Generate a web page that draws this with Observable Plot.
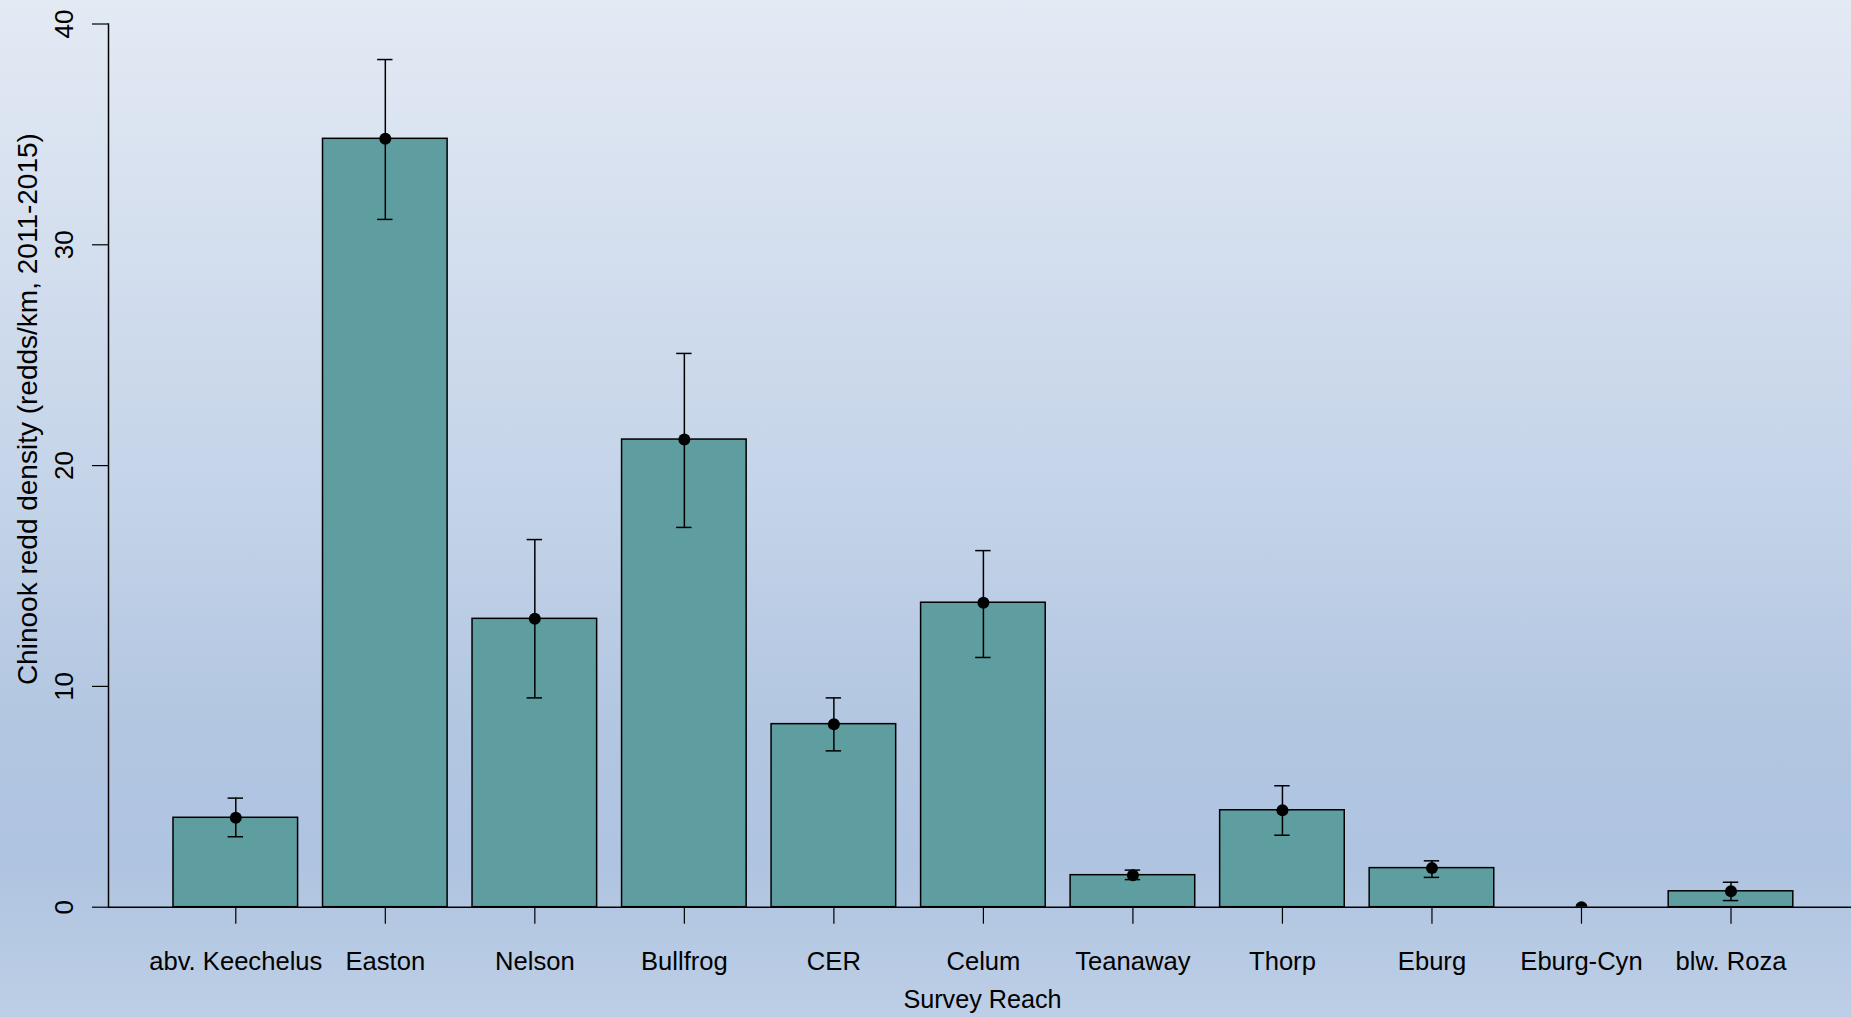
<!DOCTYPE html>
<html>
<head>
<meta charset="utf-8">
<script src="https://cdn.jsdelivr.net/npm/d3@7"></script>
<script src="https://cdn.jsdelivr.net/npm/@observablehq/plot@0.6"></script>
<style>
  html, body { margin: 0; padding: 0; overflow: hidden; }
  #chart svg { display: block; }
</style>
</head>
<body>
<div id="chart"></div>
<script>
// Survey reaches along the upper Yakima River, upstream to downstream
const reaches = ["abv. Keechelus", "Easton", "Nelson", "Bullfrog", "CER", "Celum",
                 "Teanaway", "Thorp", "Eburg", "Eburg-Cyn", "blw. Roza"];
// Mean Chinook redd density (redds/km, 2011-2015)
const density = [4.05, 34.8, 13.06, 21.18, 8.29, 13.79, 1.45, 4.39, 1.77, 0, 0.72];
// Lower and upper ends of the error bars
const errLow  = [3.19, 31.15, 9.48, 17.2, 7.08, 11.31, 1.25, 3.26, 1.35, 0, 0.30];
const errHigh = [4.94, 38.39, 16.65, 25.08, 9.48, 16.15, 1.68, 5.50, 2.10, 0, 1.13];
const yTicks = [0, 10, 20, 30, 40];

const xTitle = "Survey Reach";
const yTitle = "Chinook redd density (redds/km, 2011-2015)";

const rows = reaches.map((reach, i) => ({
  reach, density: density[i], lo: errLow[i], hi: errHigh[i]
}));
const bars = rows.filter(d => d.hi > d.lo);

const W = 1851, H = 1017;
const font = "'Liberation Sans', Arial, Helvetica, sans-serif";
const capInset = 54.6;

const chart = Plot.plot({
  width: W,
  height: H,
  marginLeft: 108,
  marginRight: 0,
  marginTop: 23.5,
  marginBottom: 110.3,
  style: {
    fontFamily: font,
    color: "black",
    background: "linear-gradient(to bottom, #e3eaf4 0%, #d3deee 25%, #c3d3e8 50%, #b2c6e1 72%, #afc4e1 85%, #b6c9e3 92%, #bdcfe6 100%)",
    overflow: "hidden"
  },
  x: {
    type: "band",
    domain: reaches,
    range: [108.2, 1857.6],
    paddingInner: 0.2 / 1.2,
    paddingOuter: 0.52 / 1.2,
    round: false,
    axis: null
  },
  y: {
    domain: [0, 40],
    axis: null
  },
  marks: [
    Plot.barY(rows, {x: "reach", y: "density", fill: "#5F9EA0", stroke: "black", strokeWidth: 1.5}),
    Plot.ruleY([0], {stroke: "black", strokeWidth: 1.6}),
    Plot.frame({anchor: "left", stroke: "black", strokeWidth: 1.5}),
    // error bars with flat caps
    Plot.ruleX(bars, {x: "reach", y1: "lo", y2: "hi", stroke: "black", strokeWidth: 1.5}),
    Plot.tickY(bars, {x: "reach", y: "lo", insetLeft: capInset, insetRight: capInset, stroke: "black", strokeWidth: 1.5}),
    Plot.tickY(bars, {x: "reach", y: "hi", insetLeft: capInset, insetRight: capInset, stroke: "black", strokeWidth: 1.5}),
    Plot.dot(rows, {x: "reach", y: "density", r: 6, fill: "black", stroke: null, clip: true}),
    // axes
    Plot.axisX({tickSize: 17, tickPadding: 28, fontSize: 25.6, label: null, stroke: "black", strokeWidth: 1.2}),
    Plot.axisY({ticks: yTicks, tickSize: 16, tickPadding: 20, tickRotate: -90, fontSize: 26, label: null, stroke: "black", strokeWidth: 1.2}),
    // axis titles
    Plot.text([xTitle], {frameAnchor: "bottom", dx: 2.5, dy: 92.3, fontSize: 25.2, textAnchor: "middle", lineAnchor: "middle", fill: "black"}),
    Plot.text([yTitle], {frameAnchor: "left", dx: -80, dy: -56.5, rotate: -90, fontSize: 28, textAnchor: "middle", lineAnchor: "middle", fill: "black"})
  ]
});

document.getElementById("chart").appendChild(chart);
</script>
</body>
</html>
